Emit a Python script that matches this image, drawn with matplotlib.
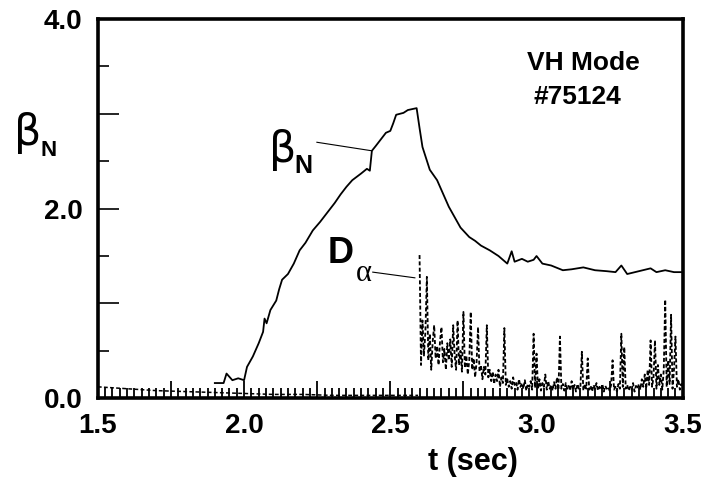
import numpy as np
import matplotlib
matplotlib.use("Agg")
import matplotlib.pyplot as plt
from matplotlib.ticker import MultipleLocator, FuncFormatter

plt.rcParams['font.family'] = ['Liberation Sans', 'DejaVu Sans']

# normalized beta vs time
t_beta = [1.90, 1.93, 1.94, 1.96, 1.98, 2.00, 2.01, 2.03, 2.05, 2.065, 2.07, 2.077,
          2.09, 2.11, 2.12, 2.13, 2.15, 2.17, 2.19, 2.21, 2.235, 2.26, 2.29, 2.31,
          2.33, 2.35, 2.37, 2.40, 2.42, 2.43, 2.437, 2.45, 2.47, 2.485, 2.50, 2.51,
          2.52, 2.545, 2.56, 2.575, 2.59, 2.60, 2.61, 2.635, 2.66, 2.70, 2.74, 2.77,
          2.79, 2.81, 2.84, 2.87, 2.90, 2.915, 2.925, 2.95, 2.97, 2.99, 3.00, 3.02,
          3.05, 3.09, 3.12, 3.16, 3.20, 3.24, 3.27, 3.29, 3.31, 3.35, 3.39, 3.41,
          3.44, 3.47, 3.50]
beta_n = [0.16, 0.16, 0.26, 0.19, 0.21, 0.19, 0.33, 0.44, 0.58, 0.70, 0.84, 0.79,
          0.93, 1.03, 1.15, 1.25, 1.31, 1.42, 1.56, 1.64, 1.77, 1.86, 1.98, 2.06,
          2.15, 2.23, 2.30, 2.37, 2.42, 2.40, 2.61, 2.66, 2.74, 2.80, 2.82, 2.90,
          2.99, 3.01, 3.04, 3.05, 3.06, 2.85, 2.65, 2.41, 2.30, 2.02, 1.80, 1.70,
          1.66, 1.61, 1.56, 1.50, 1.42, 1.55, 1.44, 1.47, 1.44, 1.46, 1.50, 1.42,
          1.40, 1.35, 1.36, 1.38, 1.35, 1.34, 1.33, 1.40, 1.31, 1.34, 1.37, 1.33,
          1.35, 1.33, 1.33]

# D-alpha before the first ELM
t_da_pre = [1.5, 1.6, 1.7, 1.8, 1.9, 2.0, 2.1, 2.2, 2.3, 2.4, 2.5, 2.595]
da_pre = [0.12, 0.10, 0.08, 0.07, 0.06, 0.05, 0.04, 0.04, 0.03, 0.03, 0.03, 0.03]

# D-alpha from 2.600 s to 3.500 s, 5 ms samples
da_elm = [
    1.51, 0.35, 0.82, 0.45, 0.70, 1.28, 0.40, 0.68, 0.30, 0.60,
    0.77, 0.42, 0.55, 0.35, 0.60, 0.75, 0.38, 0.52, 0.30, 0.58,
    0.40, 0.62, 0.33, 0.77, 0.45, 0.30, 0.82, 0.35, 0.50, 0.28,
    0.91, 0.32, 0.45, 0.25, 0.40, 0.91, 0.30, 0.42, 0.22, 0.38,
    0.75, 0.28, 0.35, 0.20, 0.33, 0.25, 0.77, 0.22, 0.30, 0.18,
    0.28, 0.15, 0.25, 0.18, 0.30, 0.12, 0.22, 0.16, 0.74, 0.14,
    0.20, 0.12, 0.18, 0.10, 0.22, 0.14, 0.17, 0.09, 0.20, 0.12,
    0.16, 0.10, 0.19, 0.08, 0.15, 0.12, 0.18, 0.09, 0.68, 0.11,
    0.47, 0.10, 0.20, 0.08, 0.16, 0.12, 0.25, 0.09, 0.18, 0.10,
    0.14, 0.08, 0.17, 0.10, 0.22, 0.09, 0.65, 0.10, 0.15, 0.08,
    0.16, 0.10, 0.13, 0.08, 0.18, 0.09, 0.14, 0.07, 0.15, 0.10,
    0.12, 0.49, 0.08, 0.15, 0.10, 0.42, 0.09, 0.13, 0.07, 0.14,
    0.10, 0.16, 0.08, 0.12, 0.09, 0.15, 0.07, 0.13, 0.10, 0.12,
    0.08, 0.14, 0.40, 0.09, 0.12, 0.07, 0.15, 0.10, 0.68, 0.12,
    0.54, 0.10, 0.14, 0.08, 0.12, 0.09, 0.16, 0.07, 0.13, 0.10,
    0.15, 0.09, 0.20, 0.12, 0.25, 0.10, 0.30, 0.14, 0.61, 0.12,
    0.22, 0.61, 0.10, 0.35, 0.14, 0.25, 0.09, 0.30, 1.04, 0.12,
    0.40, 0.15, 0.88, 0.10, 0.30, 0.65, 0.12, 0.20, 0.09, 0.15,
    0.12]
t_da_elm = np.linspace(2.6, 3.5, len(da_elm))

fig = plt.figure(figsize=(7.09, 4.88), dpi=100)
ax = fig.add_axes([0.138, 0.184, 0.825, 0.777])

ax.plot(t_beta, beta_n, color='black', lw=1.3)
ax.plot(t_da_pre, da_pre, color='black', lw=1.1, dashes=(2.5, 1.5))
ax.plot(t_da_elm, da_elm, color='black', lw=1.3, dashes=(2.2, 1.3))

ax.set_xlim(1.5, 3.5)
ax.set_ylim(0, 4.0)

for s in ax.spines.values():
    s.set_linewidth(2.6)

ax.xaxis.set_major_locator(MultipleLocator(0.25))
ax.xaxis.set_minor_locator(MultipleLocator(0.025))
ax.xaxis.set_major_formatter(FuncFormatter(
    lambda v, p: f"{v:.1f}" if abs(v * 2 - round(v * 2)) < 1e-6 else ""))
ax.yaxis.set_major_locator(MultipleLocator(1.0))
ax.yaxis.set_minor_locator(MultipleLocator(0.5))
ax.yaxis.set_major_formatter(FuncFormatter(
    lambda v, p: f"{v:.1f}" if round(v) % 2 == 0 else ""))

ax.tick_params(axis='x', which='major', direction='in', length=12.5, width=1.3,
               labelsize=20, pad=11, bottom=True, top=False)
ax.tick_params(axis='x', which='minor', direction='in', length=7.5, width=1.3,
               bottom=True, top=False)
ax.tick_params(axis='y', which='major', direction='in', length=15, width=1.2,
               labelsize=20, pad=11, left=True, right=False)
ax.tick_params(axis='y', which='minor', direction='in', length=8, width=1.2,
               left=True, right=False)
for lab in ax.get_xticklabels() + ax.get_yticklabels():
    lab.set_fontweight('bold')

ax.text(0.641, -0.19, "t (sec)", transform=ax.transAxes, ha='center',
        va='baseline', fontsize=22, fontweight='bold')

# axis label on the left
ax.text(1.215, 2.67, "\u03b2", fontsize=31, family=['DejaVu Sans'],
        va='baseline', ha='left', clip_on=False)
ax.text(1.305, 2.555, "N", fontsize=16, fontweight='bold',
        va='baseline', ha='left', clip_on=False)

# curve labels
ax.text(2.085, 2.49, "\u03b2", fontsize=31, family=['DejaVu Sans'],
        va='baseline', ha='left')
ax.text(2.172, 2.38, "N", fontsize=18, fontweight='bold', va='baseline', ha='left')
ax.plot([2.249, 2.437], [2.70, 2.61], color='black', lw=0.8)

ax.text(2.286, 1.425, "D", fontsize=26, fontweight='bold', va='baseline', ha='left')
ax.text(2.383, 1.235, "\u03b1", fontsize=22, family=['Liberation Serif'],
        va='baseline', ha='left')
ax.plot([2.44, 2.584], [1.33, 1.27], color='black', lw=0.8)

ax.text(2.967, 3.46, "VH Mode", fontsize=19, fontweight='bold', va='baseline', ha='left')
ax.text(2.99, 3.10, "#75124", fontsize=19, fontweight='bold', va='baseline', ha='left')

fig.savefig("out.png", dpi=100)
